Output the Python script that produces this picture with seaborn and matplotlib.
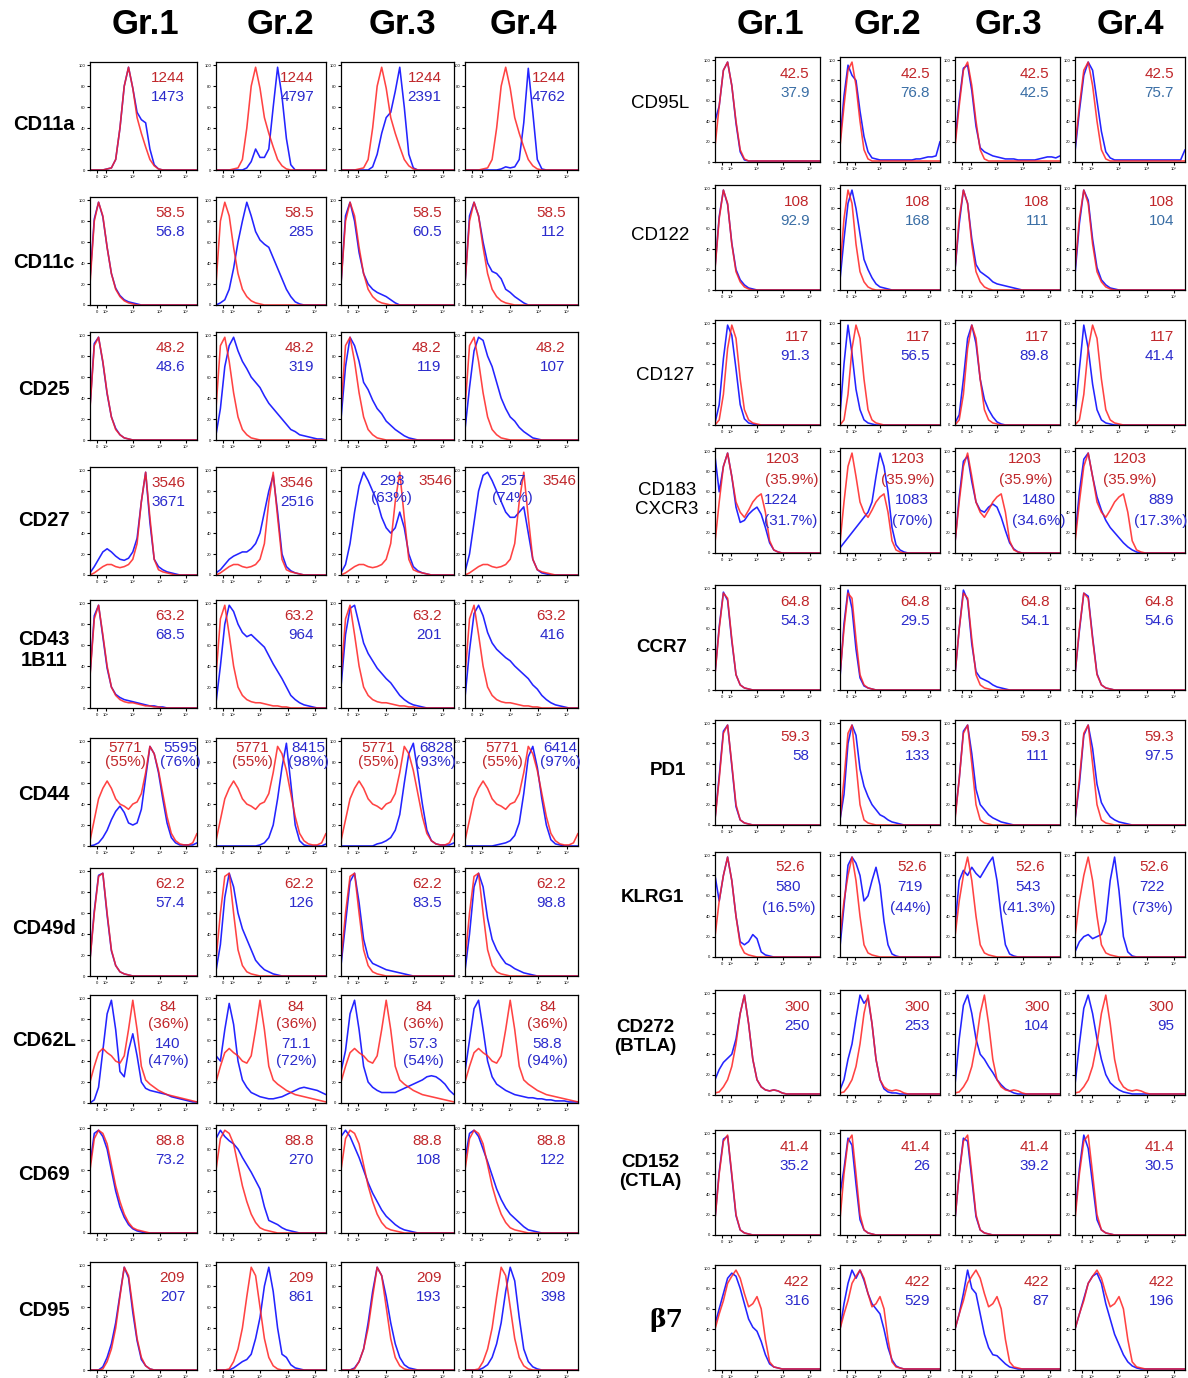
import numpy as np
import matplotlib
matplotlib.use("Agg")
import matplotlib.pyplot as plt
import seaborn as sns

# ---------------- DATA ----------------
GROUPS = ["Gr.1", "Gr.2", "Gr.3", "Gr.4"]
# shared intensity grid (26 channels across each panel)
X = np.linspace(0, 1, 26)

# ---- left block ----
LEFT_MARKERS = ["CD11a", "CD11c", "CD25", "CD27", "CD43\n1B11", "CD44", "CD49d", "CD62L", "CD69", "CD95"]
LEFT_RED_LABELS = ["1244", "58.5", "48.2", "3546", "63.2", "5771\n(55%)", "62.2", "84\n(36%)", "88.8", "209"]
LEFT_BLUE_LABELS = [
    ["1473", "4797", "2391", "4762"],
    ["56.8", "285", "60.5", "112"],
    ["48.6", "319", "119", "107"],
    ["3671", "2516", "293\n(63%)", "257\n(74%)"],
    ["68.5", "964", "201", "416"],
    ["5595\n(76%)", "8415\n(98%)", "6828\n(93%)", "6414\n(97%)"],
    ["57.4", "126", "83.5", "98.8"],
    ["140\n(47%)", "71.1\n(72%)", "57.3\n(54%)", "58.8\n(94%)"],
    ["73.2", "270", "108", "122"],
    ["207", "861", "193", "398"],
]

CD11A_RED = [0,0,0,0,1,2,10,40,80,98,78,50,35,22,10,4,1,0,0,0,0,0,0,0,0,0]
CD11A_BLUE = [
    [0,0,0,0,1,2,10,40,80,98,78,55,48,45,20,5,1,0,0,0,0,0,0,0,0,0],
    [0,0,0,0,0,0,0,2,8,20,12,12,20,60,98,70,30,5,0,0,0,0,0,0,0,0],
    [0,0,0,0,0,0,0,3,15,35,50,55,75,98,60,15,2,0,0,0,0,0,0,0,0,0],
    [0,0,0,0,0,0,0,0,1,3,2,3,10,45,97,55,10,1,0,0,0,0,0,0,0,0],
]
CD11C_RED = [20,80,98,85,55,30,15,8,4,2,1,0,0,0,0,0,0,0,0,0,0,0,0,0,0,0]
CD11C_BLUE = [
    [25,82,98,84,55,30,16,9,5,3,2,1,0,0,0,0,0,0,0,0,0,0,0,0,0,0],
    [0,2,5,15,35,60,80,98,85,70,62,58,55,45,35,25,15,8,3,1,0,0,0,0,0,0],
    [20,85,98,80,50,30,20,15,12,10,8,5,2,0,0,0,0,0,0,0,0,0,0,0,0,0],
    [20,85,98,85,60,40,32,30,25,15,12,8,5,2,0,0,0,0,0,0,0,0,0,0,0,0],
]
CD25_RED = [30,90,98,75,45,22,10,5,2,1,0,0,0,0,0,0,0,0,0,0,0,0,0,0,0,0]
CD25_BLUE = [
    [32,92,98,74,44,22,11,5,2,1,0,0,0,0,0,0,0,0,0,0,0,0,0,0,0,0],
    [5,30,70,90,98,85,75,68,60,55,50,42,35,30,25,20,15,10,8,5,4,3,2,1,1,0],
    [20,70,98,90,75,55,48,38,30,25,18,14,10,7,4,2,1,0,0,0,0,0,0,0,0,0],
    [10,50,85,98,95,80,70,55,40,30,22,18,12,8,5,2,1,0,0,0,0,0,0,0,0,0],
]
CD27_RED = [0,2,5,8,10,10,8,7,8,10,15,30,70,98,55,15,5,3,2,1,0,0,0,0,0,0]
CD27_BLUE = [
    [2,8,15,22,25,22,18,15,14,16,22,35,70,98,50,15,8,5,3,2,1,0,0,0,0,0],
    [2,5,10,15,18,20,22,22,25,30,40,60,80,95,60,20,8,4,2,1,0,0,0,0,0,0],
    [2,10,30,60,85,98,90,80,70,55,45,40,45,60,45,20,8,4,2,1,0,0,0,0,0,0],
    [3,20,50,80,95,98,90,80,70,60,55,55,60,65,40,15,5,2,1,0,0,0,0,0,0,0],
]
CD43_RED = [30,85,98,70,40,20,12,8,6,5,5,4,3,2,2,1,1,0,0,0,0,0,0,0,0,0]
CD43_BLUE = [
    [32,88,98,68,38,20,13,10,8,7,6,5,4,3,2,2,1,1,0,0,0,0,0,0,0,0],
    [5,40,80,98,92,80,72,68,70,66,62,58,50,42,35,28,20,12,8,5,3,2,1,0,0,0],
    [20,70,95,98,80,62,52,45,38,33,28,24,18,12,8,5,3,2,1,0,0,0,0,0,0,0],
    [10,55,90,98,88,72,62,56,52,48,45,40,36,32,28,22,18,12,8,5,3,2,1,0,0,0],
]
CD44_RED = [5,25,45,55,62,55,45,40,38,35,40,42,50,70,95,88,72,50,28,12,5,2,1,1,3,12]
CD44_BLUE = [
    [0,1,3,8,15,25,33,38,32,22,20,22,35,65,95,88,70,45,22,8,3,1,1,1,1,3],
    [0,0,0,0,0,0,0,0,0,0,1,3,8,20,45,75,98,60,20,5,1,0,0,0,0,2],
    [0,0,0,0,0,0,0,0,2,3,5,8,15,30,60,88,98,70,40,15,5,2,1,1,1,3],
    [0,0,0,0,0,0,0,1,2,3,5,10,22,50,85,95,75,45,20,6,2,1,0,0,0,0],
]
CD49D_RED = [15,60,95,98,60,25,10,4,2,1,0,0,0,0,0,0,0,0,0,0,0,0,0,0,0,0]
CD49D_BLUE = [
    [16,62,96,98,58,24,10,4,2,1,0,0,0,0,0,0,0,0,0,0,0,0,0,0,0,0],
    [5,30,75,98,85,60,45,35,25,15,10,6,4,2,1,0,0,0,0,0,0,0,0,0,0,0],
    [10,50,90,98,70,35,18,12,10,8,6,5,4,3,2,1,0,0,0,0,0,0,0,0,0,0],
    [5,40,85,98,85,55,35,25,18,12,10,7,5,3,2,1,0,0,0,0,0,0,0,0,0,0],
]
CD62L_RED = [20,35,48,52,48,45,40,38,45,70,98,70,35,22,18,15,12,10,8,7,6,5,4,3,2,1]
CD62L_BLUE = [
    [0,3,15,50,85,98,70,30,25,50,66,45,20,14,12,11,10,9,8,6,5,4,3,2,1,1],
    [45,40,70,95,75,40,22,15,10,8,6,5,4,4,5,6,8,10,12,14,15,14,13,12,10,8],
    [30,50,85,98,70,35,20,15,12,10,10,10,10,12,14,16,18,20,22,25,26,25,22,18,12,8],
    [30,60,90,98,70,40,25,18,15,12,10,8,7,6,5,5,4,4,3,3,2,2,2,1,1,1],
]
CD69_RED = [60,90,98,95,85,65,45,30,18,10,5,3,2,1,0,0,0,0,0,0,0,0,0,0,0,0]
CD69_BLUE = [
    [65,95,98,92,80,60,40,25,15,8,4,2,1,0,0,0,0,0,0,0,0,0,0,0,0,0],
    [90,98,92,88,85,80,72,65,58,50,42,25,12,10,8,5,3,2,1,0,0,0,0,0,0,0],
    [92,98,92,82,72,60,48,38,30,22,16,12,8,5,3,2,1,0,0,0,0,0,0,0,0,0],
    [70,95,98,92,80,68,55,42,32,24,18,14,10,6,3,2,1,0,0,0,0,0,0,0,0,0],
]
CD95_RED = [0,0,0,1,8,20,40,70,98,90,60,30,12,4,1,0,0,0,0,0,0,0,0,0,0,0]
CD95_BLUE = [
    [0,0,0,3,12,25,45,72,98,88,55,28,10,4,1,0,0,0,0,0,0,0,0,0,0,0],
    [0,0,0,0,2,5,8,10,15,30,50,80,98,75,40,15,12,5,2,1,0,0,0,0,0,0],
    [0,0,0,2,8,20,45,75,98,90,70,45,25,12,5,2,1,0,0,0,0,0,0,0,0,0],
    [0,0,0,0,2,5,12,25,45,75,98,85,50,20,8,3,1,0,0,0,0,0,0,0,0,0],
]

# ---- right block ----
RIGHT_MARKERS = ["CD95L", "CD122", "CD127", "CD183\nCXCR3", "CCR7", "PD1", "KLRG1",
                 "CD272\n(BTLA)", "CD152\n(CTLA)", "β7"]
RIGHT_RED_LABELS = ["42.5", "108", "117", "1203\n(35.9%)", "64.8", "59.3", "52.6", "300", "41.4", "422"]
RIGHT_BLUE_LABELS = [
    ["37.9", "76.8", "42.5", "75.7"],
    ["92.9", "168", "111", "104"],
    ["91.3", "56.5", "89.8", "41.4"],
    ["1224\n(31.7%)", "1083\n(70%)", "1480\n(34.6%)", "889\n(17.3%)"],
    ["54.3", "29.5", "54.1", "54.6"],
    ["58", "133", "111", "97.5"],
    ["580\n(16.5%)", "719\n(44%)", "543\n(41.3%)", "722\n(73%)"],
    ["250", "253", "104", "95"],
    ["35.2", "26", "39.2", "30.5"],
    ["316", "529", "87", "196"],
]

CD95L_RED = [15,55,90,98,75,40,12,3,1,1,1,1,1,1,1,1,1,1,1,1,1,1,1,1,1,1]
CD95L_BLUE = [
    [40,55,90,98,75,38,10,2,1,1,1,1,1,1,1,1,1,1,1,1,1,1,1,1,1,1],
    [20,65,95,85,80,50,25,10,4,3,2,2,2,2,2,2,2,2,2,3,3,4,5,5,6,20],
    [20,60,92,95,70,35,14,10,8,6,5,4,3,3,3,2,2,2,2,2,3,4,5,5,4,6],
    [10,50,85,98,90,60,30,10,4,2,2,2,2,2,2,2,2,2,2,2,2,2,2,2,2,12],
]
CD122_RED = [20,70,98,85,45,18,8,3,1,0,0,0,0,0,0,0,0,0,0,0,0,0,0,0,0,0]
CD122_BLUE = [
    [22,72,98,84,46,20,10,5,2,1,0,0,0,0,0,0,0,0,0,0,0,0,0,0,0,0],
    [10,50,85,98,80,55,30,20,12,6,3,2,1,0,0,0,0,0,0,0,0,0,0,0,0,0],
    [20,65,98,85,50,25,18,15,12,8,6,5,4,3,2,1,0,0,0,0,0,0,0,0,0,0],
    [15,65,98,88,50,22,10,5,2,1,0,0,0,0,0,0,0,0,0,0,0,0,0,0,0,0],
]
CD127_RED = [0,5,30,75,98,85,45,15,5,2,1,0,0,0,0,0,0,0,0,0,0,0,0,0,0,0]
CD127_BLUE = [
    [2,20,65,98,88,55,20,6,2,1,0,0,0,0,0,0,0,0,0,0,0,0,0,0,0,0],
    [10,60,98,70,35,15,5,2,1,0,0,0,0,0,0,0,0,0,0,0,0,0,0,0,0,0],
    [2,10,45,85,98,80,45,25,15,8,3,1,0,0,0,0,0,0,0,0,0,0,0,0,0,0],
    [10,55,98,75,40,15,5,2,1,0,0,0,0,0,0,0,0,0,0,0,0,0,0,0,0,0],
]
CD183_RED = [10,50,85,98,75,50,40,35,42,50,55,58,40,12,3,1,0,0,0,0,0,0,0,0,0,0]
CD183_BLUE = [
    [95,60,85,98,75,45,30,32,38,42,45,38,25,10,3,1,0,0,0,0,0,0,0,0,0,0],
    [5,10,15,20,25,30,35,40,50,75,98,85,60,25,8,3,1,0,0,0,0,0,0,0,0,0],
    [10,55,90,95,70,50,42,40,45,48,45,35,22,10,4,1,0,0,0,0,0,0,0,0,0,0],
    [15,60,92,98,75,55,42,32,25,20,15,10,6,3,1,0,0,0,0,0,0,0,0,0,0,0],
]
CCR7_RED = [15,60,95,90,50,15,5,2,1,0,0,0,0,0,0,0,0,0,0,0,0,0,0,0,0,0]
CCR7_BLUE = [
    [16,62,96,88,48,15,5,2,1,0,0,0,0,0,0,0,0,0,0,0,0,0,0,0,0,0],
    [12,65,98,80,40,12,4,2,1,0,0,0,0,0,0,0,0,0,0,0,0,0,0,0,0,0],
    [15,60,98,88,45,18,12,10,8,5,3,2,1,0,0,0,0,0,0,0,0,0,0,0,0,0],
    [15,58,95,92,52,16,5,2,1,0,0,0,0,0,0,0,0,0,0,0,0,0,0,0,0,0],
]
PD1_RED = [5,45,90,98,60,20,5,2,1,0,0,0,0,0,0,0,0,0,0,0,0,0,0,0,0,0]
PD1_BLUE = [
    [6,48,92,98,58,18,5,2,1,0,0,0,0,0,0,0,0,0,0,0,0,0,0,0,0,0],
    [5,30,80,98,88,55,38,28,20,15,10,8,5,3,2,1,0,0,0,0,0,0,0,0,0,0],
    [8,45,92,98,70,35,20,15,10,7,5,3,2,1,0,0,0,0,0,0,0,0,0,0,0,0],
    [5,40,88,98,75,40,22,14,8,5,3,2,1,0,0,0,0,0,0,0,0,0,0,0,0,0],
]
KLRG1_RED = [20,55,80,98,75,40,12,4,2,1,0,0,0,0,0,0,0,0,0,0,0,0,0,0,0,0]
KLRG1_BLUE = [
    [80,55,80,98,75,40,15,12,15,22,18,5,2,1,0,0,0,0,0,0,0,0,0,0,0,0],
    [10,50,90,98,92,80,55,60,75,88,70,35,12,3,1,0,0,0,0,0,0,0,0,0,0,0],
    [30,75,85,80,88,82,78,85,92,98,75,40,12,3,1,0,0,0,0,0,0,0,0,0,0,0],
    [5,15,20,22,18,20,22,35,75,98,65,20,5,1,0,0,0,0,0,0,0,0,0,0,0,0],
]
BTLA_RED = [2,3,8,15,28,50,80,98,70,35,15,8,5,4,5,4,2,1,1,1,1,1,1,1,1,1]
BTLA_BLUE = [
    [15,25,32,36,40,55,80,98,70,35,15,8,5,4,5,4,2,1,1,1,1,1,1,1,1,1],
    [5,15,35,50,75,98,90,95,70,35,15,6,3,2,2,1,1,1,1,1,1,1,1,1,1,1],
    [10,55,88,98,80,55,40,35,28,22,15,10,6,4,2,1,1,1,1,1,1,1,1,1,1,1],
    [10,50,85,98,80,55,35,20,12,8,5,3,2,1,1,1,1,1,1,1,1,1,1,1,1,1],
]
CTLA_RED = [15,60,92,98,60,20,5,2,1,0,0,0,0,0,0,0,0,0,0,0,0,0,0,0,0,0]
CTLA_BLUE = [
    [16,62,94,97,58,19,5,2,1,0,0,0,0,0,0,0,0,0,0,0,0,0,0,0,0,0],
    [40,65,95,88,50,15,5,2,1,0,0,0,0,0,0,0,0,0,0,0,0,0,0,0,0,0],
    [15,60,95,92,55,18,5,2,1,0,0,0,0,0,0,0,0,0,0,0,0,0,0,0,0,0],
    [20,65,98,85,50,15,5,2,1,0,0,0,0,0,0,0,0,0,0,0,0,0,0,0,0,0],
]
B7_RED = [40,55,68,85,92,98,90,75,62,65,72,60,30,8,3,2,1,1,1,1,1,1,1,1,1,1]
B7_BLUE = [
    [45,60,75,90,95,92,80,65,50,42,38,28,15,6,3,2,1,1,1,1,1,1,1,1,1,1],
    [40,65,85,98,90,98,88,75,65,60,55,40,22,10,4,2,1,1,1,1,1,1,1,1,1,1],
    [40,55,75,98,80,75,55,35,22,15,14,10,6,3,2,1,1,1,1,1,1,1,1,1,1,1],
    [40,55,70,85,92,95,85,65,50,35,25,15,8,4,2,1,1,1,1,1,1,1,1,1,1,1],
]

LEFT_RED = [CD11A_RED, CD11C_RED, CD25_RED, CD27_RED, CD43_RED, CD44_RED, CD49D_RED, CD62L_RED, CD69_RED, CD95_RED]
LEFT_BLUE = [CD11A_BLUE, CD11C_BLUE, CD25_BLUE, CD27_BLUE, CD43_BLUE, CD44_BLUE, CD49D_BLUE, CD62L_BLUE, CD69_BLUE, CD95_BLUE]
RIGHT_RED = [CD95L_RED, CD122_RED, CD127_RED, CD183_RED, CCR7_RED, PD1_RED, KLRG1_RED, BTLA_RED, CTLA_RED, B7_RED]
RIGHT_BLUE = [CD95L_BLUE, CD122_BLUE, CD127_BLUE, CD183_BLUE, CCR7_BLUE, PD1_BLUE, KLRG1_BLUE, BTLA_BLUE, CTLA_BLUE, B7_BLUE]

X_TICK_LABELS = ["0", "10²", "10³", "10⁴", "10⁵"]
Y_TICK_LABELS = ["0", "20", "40", "60", "80", "100"]

# ---------------- LAYOUT / STYLE ----------------
W, H = 1188, 1378
L_COLS_X = [90, 216, 341, 465]
L_COLS_W = [107, 110, 113, 113]
L_ROWS_Y = [62, 197, 332, 467, 600, 738, 868, 995, 1125, 1262]
L_ROW_H = 108
R_COLS_X = [715, 840, 955, 1075]
R_COLS_W = [105, 100, 105, 110]
R_ROWS_Y = [57, 185, 320, 448, 585, 720, 852, 990, 1130, 1265]
R_ROW_H = 105

L_LABEL_Y = [125, 262, 390, 520, 650, 795, 928, 1040, 1175, 1310]
L_LABEL_X = 44
R_LABEL_Y = [103, 235, 375, 500, 648, 770, 898, 1037, 1172, 1320]
R_LABEL_X = [660, 660, 665, 667, 662, 668, 652, 645, 650, 666]
R_LABEL_BOLD = [False, False, False, False, True, True, True, True, True, True]

TITLE_X_L = [145, 280, 402, 523]
TITLE_X_R = [770, 887, 1008, 1130]

RED_LINE = "#ff2222"
BLUE_LINE = "#2424ff"
RED_TXT = "#c0262a"
BLUE_TXT = "#2a2acc"
STEEL_TXT = "#3a6ea5"

sns.set_style("ticks")
plt.rcParams["font.family"] = ["Liberation Sans", "DejaVu Sans"]
plt.rcParams["text.color"] = "black"

fig = plt.figure(figsize=(W / 100, H / 100), dpi=100)


def put(ax, s, color, x, y, ha, dy=0.165, fs=11):
    for k, line in enumerate(s.split("\n")):
        ax.text(x, y - k * dy, line, color=color, ha=ha, va="center",
                fontsize=fs, transform=ax.transAxes, clip_on=False, zorder=5)


def make_panel(px, py, pw, ph, red, blue):
    ax = fig.add_axes([px / W, 1 - (py + ph) / H, pw / W, ph / H])
    sns.lineplot(x=X, y=blue, ax=ax, color=BLUE_LINE, linewidth=1.15, legend=False)
    sns.lineplot(x=X, y=red, ax=ax, color=RED_LINE, linewidth=1.15, alpha=0.85, legend=False)
    ax.set_xlim(0, 1)
    ax.set_ylim(0, 103)
    ax.set_xticks([0.065, 0.15, 0.4, 0.65, 0.9])
    ax.set_xticklabels(X_TICK_LABELS)
    ax.set_yticks([0, 20, 40, 60, 80, 100])
    ax.set_yticklabels(Y_TICK_LABELS)
    ax.tick_params(axis="both", length=2.5, width=0.8, labelsize=3, pad=1, direction="out",
                   colors="black")
    ax.set_xlabel("")
    ax.set_ylabel("")
    for sp in ax.spines.values():
        sp.set_visible(True)
        sp.set_linewidth(0.9)
        sp.set_color("black")
    return ax


# ---- left block ----
for r in range(10):
    for c in range(4):
        ax = make_panel(L_COLS_X[c], L_ROWS_Y[r], L_COLS_W[c], L_ROW_H,
                        LEFT_RED[r], LEFT_BLUE[r][c])
        red_s = LEFT_RED_LABELS[r]
        blue_s = LEFT_BLUE_LABELS[r][c]
        m = LEFT_MARKERS[r]
        if m == "CD27" and c >= 2:
            put(ax, blue_s, BLUE_TXT, 0.45 if c == 2 else 0.42, 0.87, "center", dy=0.16)
            put(ax, red_s, RED_TXT, 0.99, 0.87, "right")
        elif m == "CD44":
            put(ax, red_s, RED_TXT, 0.33, 0.91, "center", dy=0.135)
            put(ax, blue_s, BLUE_TXT, 0.84, 0.91, "center", dy=0.135)
        elif m == "CD62L":
            put(ax, red_s, RED_TXT, 0.73, 0.89, "center", dy=0.16)
            put(ax, blue_s, BLUE_TXT, 0.73, 0.55, "center", dy=0.16)
        else:
            put(ax, red_s, RED_TXT, 0.89, 0.85, "right")
            put(ax, blue_s, BLUE_TXT, 0.89, 0.68, "right")
    fig.text(L_LABEL_X / W, 1 - L_LABEL_Y[r] / H, LEFT_MARKERS[r], ha="center", va="center",
             fontsize=14.5, fontweight="bold", linespacing=1.15)

# ---- right block ----
CD183_POS = [(0.5, "left", 0.47), (0.68, "center", 0.72),
             (0.67, "center", 0.8), (0.5, "center", 0.78)]
for r in range(10):
    for c in range(4):
        ax = make_panel(R_COLS_X[c], R_ROWS_Y[r], R_COLS_W[c], R_ROW_H,
                        RIGHT_RED[r], RIGHT_BLUE[r][c])
        red_s = RIGHT_RED_LABELS[r]
        blue_s = RIGHT_BLUE_LABELS[r][c]
        m = RIGHT_MARKERS[r]
        btxt = STEEL_TXT if r < 2 else BLUE_TXT
        if r == 3:
            rx, _, bx = CD183_POS[c]
            if c == 0:
                put(ax, red_s, RED_TXT, 0.48, 0.9, "left", dy=0.2)
                put(ax, blue_s, BLUE_TXT, 0.47, 0.5, "left", dy=0.2)
            else:
                put(ax, red_s, RED_TXT, rx, 0.9, "center", dy=0.2)
                put(ax, blue_s, BLUE_TXT, bx, 0.5, "center", dy=0.2)
        elif m == "KLRG1":
            put(ax, red_s, RED_TXT, 0.72, 0.86, "center")
            put(ax, blue_s, BLUE_TXT, 0.7, 0.67, "center", dy=0.2)
        else:
            put(ax, red_s, RED_TXT, 0.9, 0.84, "right")
            put(ax, blue_s, btxt, 0.9, 0.66, "right")
    if RIGHT_MARKERS[r] == "β7":
        fig.text(R_LABEL_X[r] / W, 1 - R_LABEL_Y[r] / H, RIGHT_MARKERS[r], ha="center", va="center",
                 fontsize=18, fontweight="bold", family=["DejaVu Serif", "DejaVu Sans"])
    else:
        fig.text(R_LABEL_X[r] / W, 1 - R_LABEL_Y[r] / H, RIGHT_MARKERS[r], ha="center", va="center",
                 fontsize=13.5, fontweight="bold" if R_LABEL_BOLD[r] else "normal", linespacing=1.2)

# ---- titles ----
for c in range(4):
    fig.text(TITLE_X_L[c] / W, 1 - 24 / H, GROUPS[c], ha="center", va="center",
             fontsize=25, fontweight="bold")
    fig.text(TITLE_X_R[c] / W, 1 - 24 / H, GROUPS[c], ha="center", va="center",
             fontsize=25, fontweight="bold")

fig.savefig("out.png", dpi=100)
